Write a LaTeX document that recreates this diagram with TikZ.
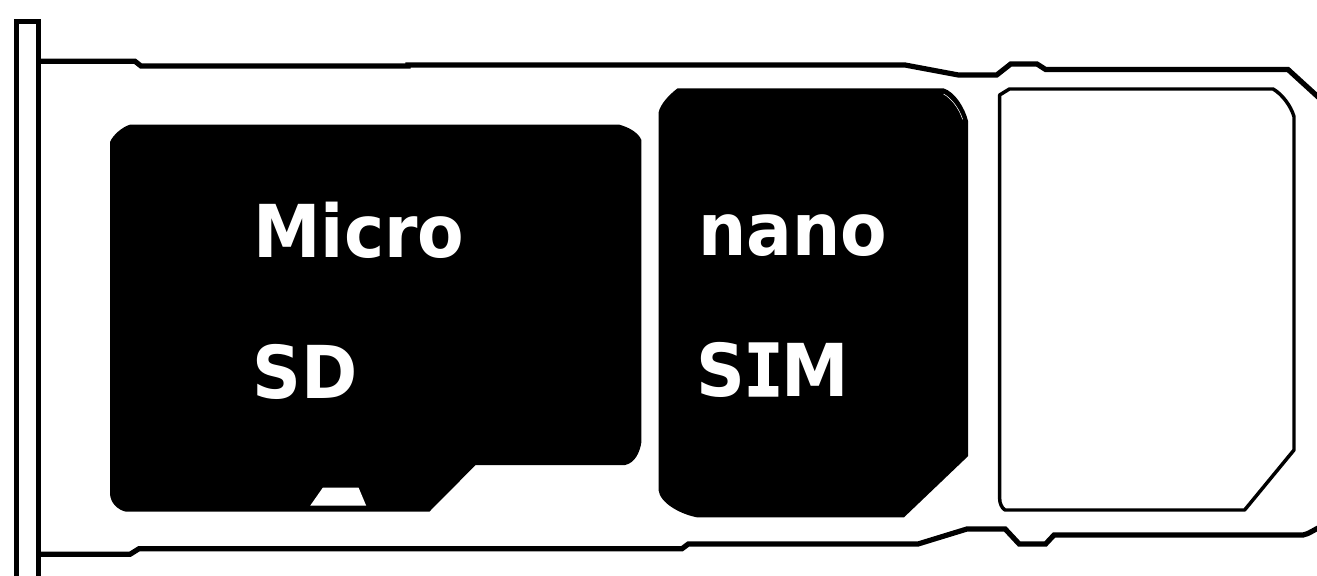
\documentclass[tikz,border=0pt]{standalone}
\usepackage{fontspec}
\setmainfont{DejaVu Sans}
\newfontfamily\labfont[FakeStretch=0.93]{DejaVu Sans}
\newfontfamily\labmono[FakeStretch=0.9,FakeBold=1.6]{DejaVu Sans Mono}
\begin{document}
\begin{tikzpicture}[x=0.75pt,y=-0.75pt,
  outline/.style={draw=black,line width=4.1pt,line join=miter,fill=none},
  tray/.style={draw=black,line width=3.9pt,line join=miter},
  slot/.style={draw=black,line width=2.6pt,line join=round,fill=white},
  card/.style={fill=black,draw=none},
  lab/.style={text=white,inner sep=0pt,anchor=base west,font=\labfont\fontsize{54.7pt}{60pt}\selectfont\bfseries}]
\useasboundingbox (0,0) rectangle (1317,575);
\fill[white] (0,0) rectangle (1317,575);
% side bar
\draw[outline] (16.5,580) -- (16.5,21.5) -- (38.5,21.5) -- (38.5,580);
% tray outline
\draw[tray] (38.5,61.3) -- (135,61.3) -- (141,66) -- (408,66) -- (408,65) -- (905,65) -- (958.4,75) -- (996.7,75) -- (1010.7,64) -- (1037,64) -- (1045.6,69.5) -- (1288,69.5) -- (1328,106);
\draw[tray] (38.5,554.3) -- (130,554.3) -- (139,548.7) -- (682,548.7) -- (688.3,544) -- (918,544) -- (966.9,529) -- (1005.2,529) -- (1019.2,544) -- (1045.6,544) -- (1054,535) -- (1303,535) .. controls (1309,534) and (1313,530) .. (1328,523);
% micro SD
\path[card] (110,142) .. controls (113,135) and (122,127) .. (130.5,124.5) -- (618.7,124.5) .. controls (628,127) and (638,132) .. (641.4,140) -- (641.4,442) .. controls (640,452) and (635,463) .. (625,465) -- (475.6,465) -- (429.3,511.7) -- (126,511.7) .. controls (118,510) and (110,503) .. (110,493) -- cycle;
\fill[white] (310.2,505.7) -- (322.8,487.7) -- (358.6,487.7) -- (366.2,505.7) -- cycle;
% nano SIM
\path[card] (658.5,113) .. controls (660,104) and (670,94) .. (677.6,88.3) -- (943.5,88.3) .. controls (955,92) and (965,108) .. (968.2,121.7) -- (968.2,456) -- (904,517.3) -- (696.8,517.3) .. controls (680,514) and (660,503) .. (658.5,490) -- cycle;
\draw[white,line width=0.4pt] (943.5,94) .. controls (951,98) and (959,108) .. (962.6,119.3);
% empty slot
\draw[slot] (999.6,95) -- (1009.4,89) -- (1273,89) .. controls (1282,94) and (1291,106) .. (1294,116.7) -- (1294,450) -- (1244.6,510) -- (1005,510) .. controls (1002,508) and (999.6,504) .. (999.6,498) -- cycle;
% labels
\node[lab] (micro) at (253,257) {Micro};
\node[lab] (sd) at (252,398) {SD};
\node[lab] (nano) at (698,255.7) {nano};
\node[lab] (sim) at (696,396) {S{\labmono\hspace{-1pt}I\hspace{-1pt}}M};
\end{tikzpicture}
\end{document}
